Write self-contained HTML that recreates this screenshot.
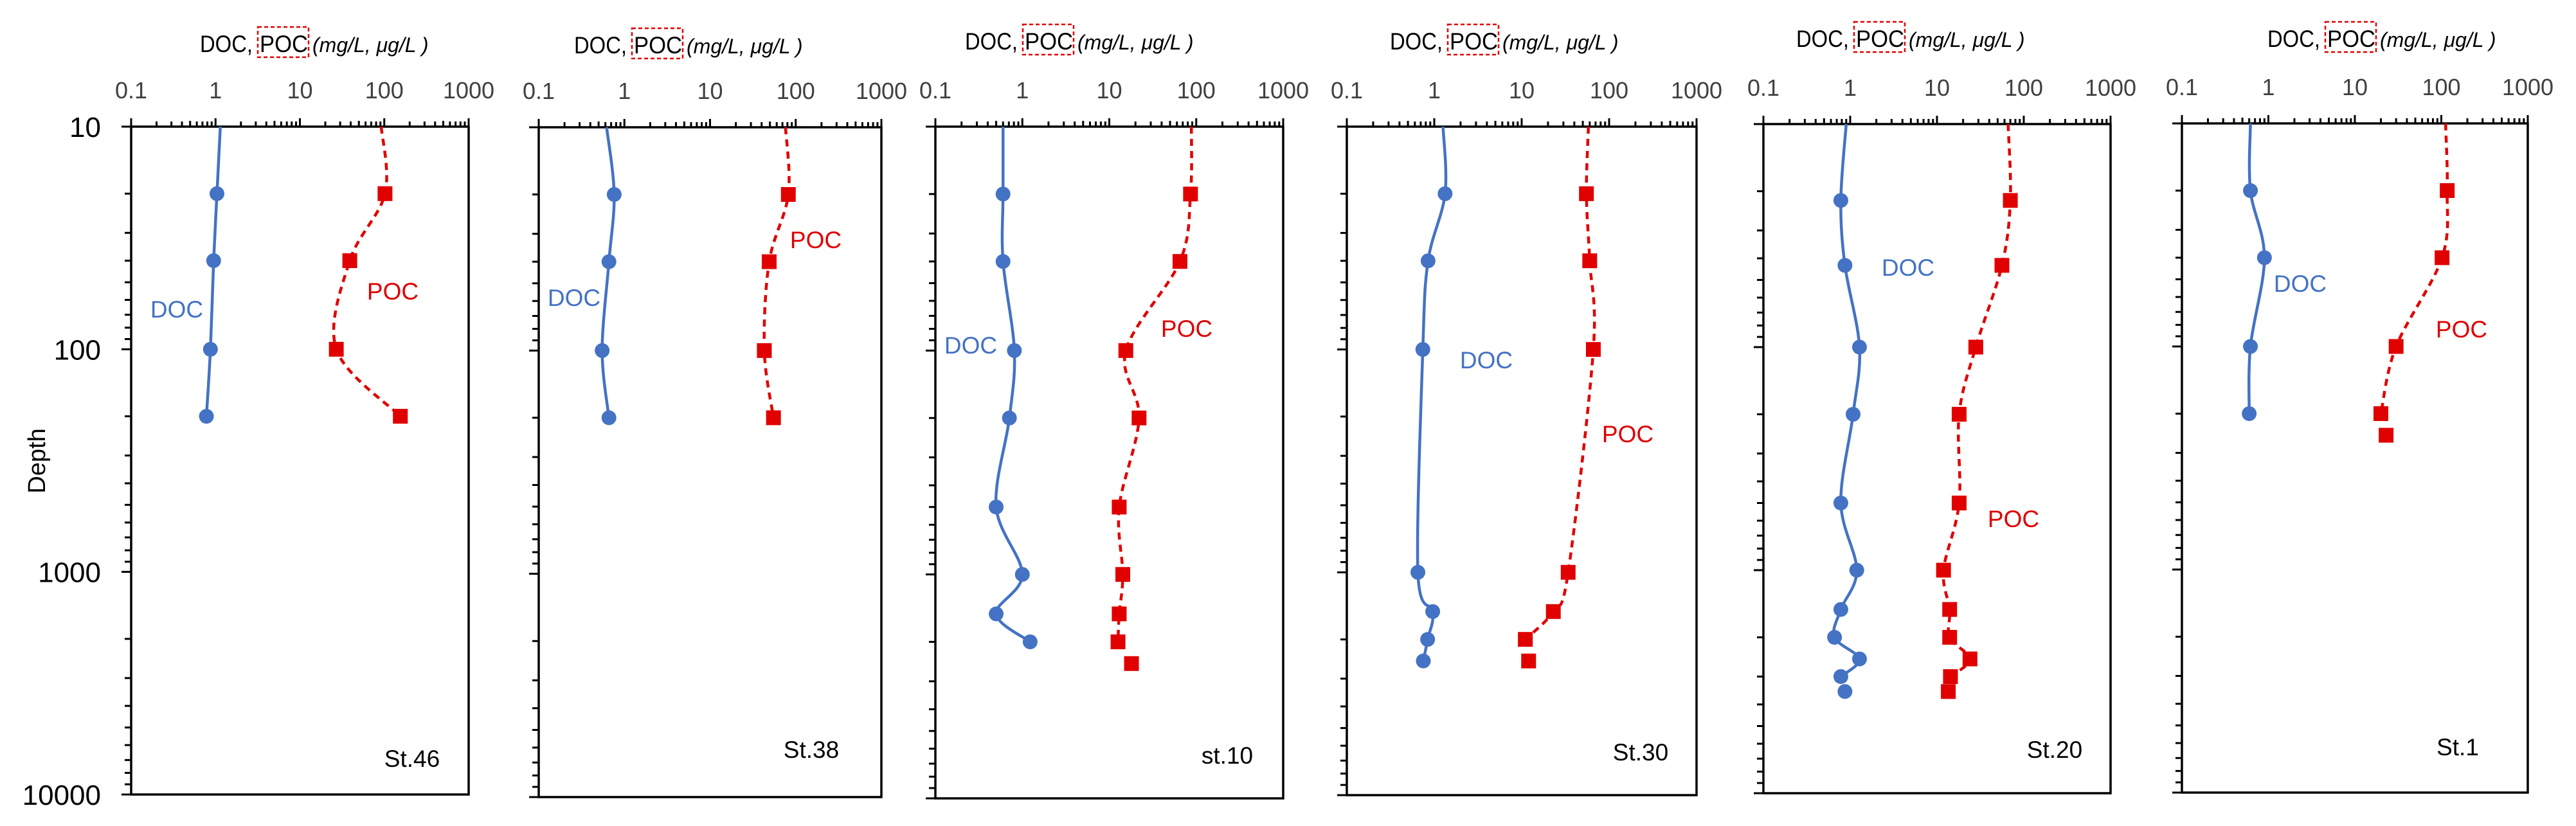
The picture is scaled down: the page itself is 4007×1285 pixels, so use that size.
<!DOCTYPE html>
<html><head><meta charset="utf-8"><style>
html,body{margin:0;padding:0;background:#fff;}
svg{display:block;font-family:"Liberation Sans",sans-serif;}
</style></head><body>
<svg id="chart" xmlns="http://www.w3.org/2000/svg" width="4007" height="1285" viewBox="0 0 4007 1285"></svg>
<script>
// ---- data (depth in m, DOC mg/L, POC ug/L) ----
const xTickLabels = ["0.1","1","10","100","1000"];
const yTickLabels = ["10","100","1000","10000"];
const stationNames = ["St.46","St.38","st.10","St.30","St.20","St.1"];

const st46DocDepth = [10,20,40,100,200];
const st46Doc = [1.14,1.04,0.95,0.87,0.78];
const st46PocDepth = [10,20,40,100,200];
const st46Poc = [92,102,39,27,155];

const st38DocDepth = [10,20,40,100,200];
const st38Doc = [0.62,0.76,0.66,0.55,0.66];
const st38PocDepth = [10,20,40,100,200];
const st38Poc = [76,82,49,43,55];

const st10DocDepth = [10,20,40,100,200,500,1000,1500,2000];
const st10Doc = [0.60,0.60,0.60,0.81,0.71,0.50,1.0,0.50,1.23];
const st10PocDepth = [10,20,40,100,200,500,1000,1500,2000,2500];
const st10Poc = [88,86,65,15.5,22,13,14.3,13,12.6,18];

const st30DocDepth = [10,20,40,100,1000,1500,2000,2500];
const st30Doc = [1.26,1.33,0.85,0.74,0.65,0.96,0.84,0.75];
const st30PocDepth = [10,20,40,100,1000,1500,2000,2500];
const st30Poc = [58,55,60,66,34,23,11,12];

const st20DocDepth = [10,22,43,100,200,500,1000,1500,2000,2500,3000,3500];
const st20Doc = [0.90,0.78,0.87,1.28,1.08,0.78,1.19,0.78,0.66,1.28,0.78,0.87];
const st20PocDepth = [10,22,43,100,200,500,1000,1500,2000,2500,3000,3500];
const st20Poc = [66,70,56,28,18,18,11.9,14,14,24,14.3,13.5];

const st1DocDepth = [10,20,40,100,200];
const st1Doc = [0.62,0.62,0.90,0.62,0.60];
const st1PocDepth = [10,20,40,100,200,250];
const st1Poc = [112,117,102,30,20,23];

// ---- layout ----
const panels = [
 {name:"st46",box:[204,197,729,1236],docD:st46DocDepth,doc:st46Doc,pocD:st46PocDepth,poc:st46Poc,docN:5,pocN:5,title:[311,72],docL:[275,481],pocL:[611,453],st:[641,1180],yLabels:true},
 {name:"st38",box:[838,198,1371,1240],docD:st38DocDepth,doc:st38Doc,pocD:st38PocDepth,poc:st38Poc,docN:5,pocN:5,title:[893,74],docL:[893,463],pocL:[1269,373],st:[1262,1166]},
 {name:"st10",box:[1455,197,1996,1242],docD:st10DocDepth,doc:st10Doc,pocD:st10PocDepth,poc:st10Poc,docN:9,pocN:9,title:[1501,68],docL:[1510,537],pocL:[1846,511],st:[1909,1175]},
 {name:"st30",box:[2095,197,2639,1237],docD:st30DocDepth,doc:st30Doc,pocD:st30PocDepth,poc:st30Poc,docN:8,pocN:7,title:[2162,68],docL:[2312,560],pocL:[2532,675],st:[2552,1170]},
 {name:"st20",box:[2743,193,3283,1234],docD:st20DocDepth,doc:st20Doc,pocD:st20PocDepth,poc:st20Poc,docN:11,pocN:11,title:[2794,64],docL:[2968,416],pocL:[3132,807],st:[3196,1166]},
 {name:"st1",box:[3394,192,3932,1233],docD:st1DocDepth,doc:st1Doc,pocD:st1PocDepth,poc:st1Poc,docN:5,pocN:5,title:[3527,64],docL:[3578,441],pocL:[3829,512],st:[3823,1162]}
];

const NS="http://www.w3.org/2000/svg";
const svg=document.getElementById('chart');
function mk(tag,attrs,parent){const e=document.createElementNS(NS,tag);for(const k in attrs)e.setAttribute(k,attrs[k]);(parent||svg).appendChild(e);return e;}
function smooth(pts){
 if(pts.length<2)return "";
 let d="M"+pts[0][0]+","+pts[0][1];
 for(let i=0;i<pts.length-1;i++){
  const p0=pts[i-1]||pts[i],p1=pts[i],p2=pts[i+1],p3=pts[i+2]||p2;
  const t=1/6;
  const c1=[p1[0]+(p2[0]-p0[0])*t,p1[1]+(p2[1]-p0[1])*t];
  const c2=[p2[0]-(p3[0]-p1[0])*t,p2[1]-(p3[1]-p1[1])*t];
  d+=" C"+c1[0]+","+c1[1]+" "+c2[0]+","+c2[1]+" "+p2[0]+","+p2[1];
 }
 return d;
}

panels.forEach((p,pi)=>{
 const [x0,y0,x1,y1]=p.box;
 const xs=v=>x0+(Math.log10(v)+1)/4*(x1-x0);
 const ys=d=>y0+(Math.log10(d)-1)/3*(y1-y0);
 const g=mk('g',{});
 
 

 const fr=mk('rect',{x:x0,y:y0,width:x1-x0,height:y1-y0,fill:'none',stroke:'#000','stroke-width':3.5},g);
 
 

 let td="";
 for(let e=-1;e<3;e++){for(let m=2;m<10;m++){const x=xs(m*Math.pow(10,e));td+=`M${x},${y0}v-${m==5?9:8}`;}}
 for(let e=-1;e<=3;e++){const x=xs(Math.pow(10,e));td+=`M${x},${y0+ (e==-1?12:0)}V${y0-13}`;}
 const tt=mk('path',{d:td,stroke:'#000','stroke-width':3,fill:'none'},g);
 
 
 let ld="";
 for(let e=1;e<4;e++){for(let m=2;m<10;m++){const y=ys(m*Math.pow(10,e));ld+=`M${x0},${y}h-10`;}}
 for(let e=1;e<=4;e++){const y=ys(Math.pow(10,e));ld+=`M${x0},${y}h-15`;}
 const lt=mk('path',{d:ld,stroke:'#000','stroke-width':3,fill:'none'},g);
 
 

 xTickLabels.forEach(l=>{
  const t=mk('text',{x:xs(parseFloat(l)),y:y0-44,'text-anchor':'middle','font-size':36,fill:'#404040'},g);
  t.textContent=l;
  
  
 });
 if(p.yLabels){
  yTickLabels.forEach(l=>{
   const t=mk('text',{x:157,y:ys(parseFloat(l))+16,'text-anchor':'end','font-size':44,fill:'#000'},g);
   t.textContent=l;
   
   
  });
  const yt=mk('text',{x:0,y:0,'text-anchor':'middle','font-size':38,fill:'#000',transform:'translate(70,717) rotate(-90)'},g);
  yt.textContent='Depth';
  
  
 }

 const tg=mk('g',{},g);
 
 
 const [tx,ty]=p.title;
 const t1=mk('text',{x:tx,y:ty+9,'font-size':37,fill:'#000',textLength:82,lengthAdjust:'spacingAndGlyphs'},tg);
 t1.textContent='DOC,';
 const t2=mk('text',{x:tx+93,y:ty+9,'font-size':37,fill:'#000',textLength:75,lengthAdjust:'spacingAndGlyphs'},tg);
 t2.textContent='POC';
 const bx=mk('rect',{x:tx+90,y:ty-30,width:79,height:47,fill:'none',stroke:'#e00000','stroke-width':2.5,'stroke-dasharray':'6,4'},tg);
 
 
 const t3=mk('text',{x:tx+175,y:ty+9,'font-size':32,'font-style':'italic',fill:'#000'},tg);
 t3.textContent='(mg/L, \u03BCg/L )';

 const docPts=p.docD.map((d,i)=>[xs(p.doc[i]),ys(d)]);
 const dl=mk('path',{d:smooth(docPts.slice(0,p.docN)),fill:'none',stroke:'#4472c4','stroke-width':4.5},g);
 
 
 docPts.forEach((pt,i)=>{ if(p.docD[i]<=10)return;
  const c=mk('circle',{cx:pt[0],cy:pt[1],r:11.5,fill:'#4472c4'},g);
  
  
 });
 const pocPts=p.pocD.map((d,i)=>[xs(p.poc[i]),ys(d)]);
 const pl=mk('path',{d:smooth(pocPts.slice(0,p.pocN)),fill:'none',stroke:'#e00000','stroke-width':4.5,'stroke-dasharray':'11,8'},g);
 
 
 pocPts.forEach((pt,i)=>{ if(p.pocD[i]<=10)return;
  const s=mk('rect',{x:pt[0]-11.5,y:pt[1]-11.5,width:23,height:23,fill:'#e00000'},g);
  
  
 });

 const dL=mk('text',{x:p.docL[0],y:p.docL[1]+13,'text-anchor':'middle','font-size':37,fill:'#4472c4'},g);
 dL.textContent='DOC';
 
 
 const pL=mk('text',{x:p.pocL[0],y:p.pocL[1]+13,'text-anchor':'middle','font-size':37,fill:'#e00000'},g);
 pL.textContent='POC';
 
 
 const sL=mk('text',{x:p.st[0],y:p.st[1]+13,'text-anchor':'middle','font-size':37,fill:'#000'},g);
 sL.textContent=stationNames[pi];
 
 
});
</script>
</body></html>
